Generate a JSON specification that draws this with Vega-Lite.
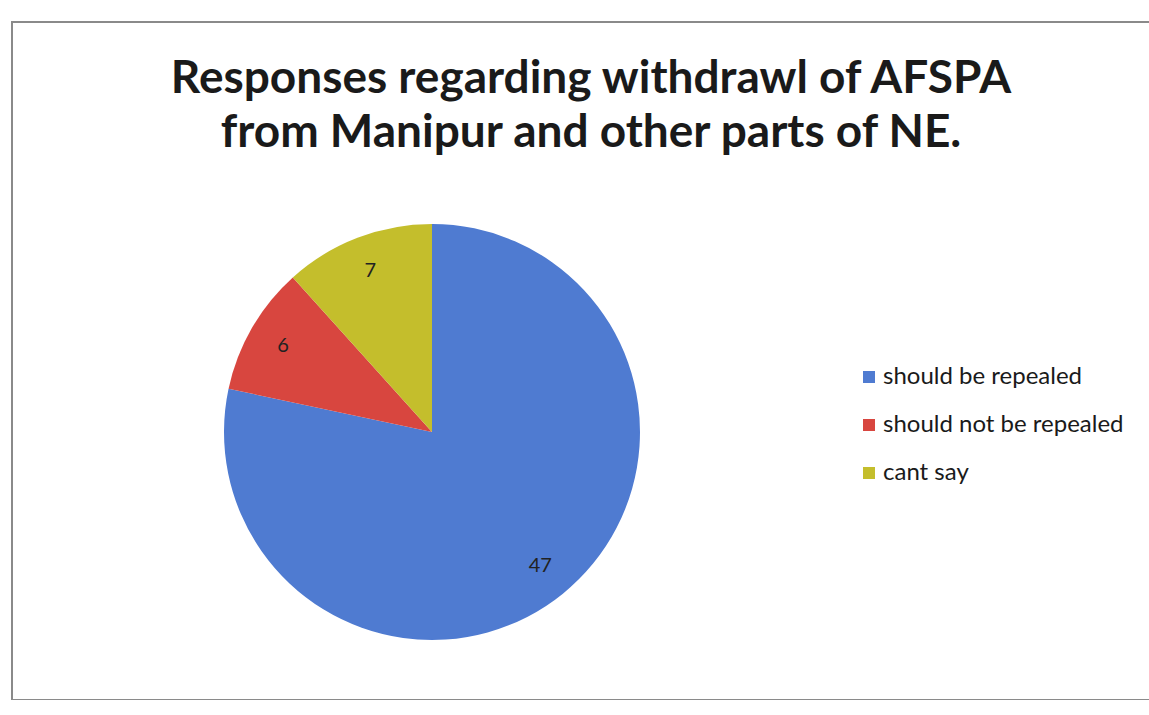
{
  "$schema": "https://vega.github.io/schema/vega-lite/v6.json",
  "autosize": {"type": "none"},
  "width": 1140,
  "height": 678,
  "padding": {"left": 12, "top": 22, "right": 0, "bottom": 0},
  "background": "white",
  "view": {"stroke": "#8a8a8a", "strokeWidth": 2},
  "title": {
    "text": ["Responses regarding withdrawl of AFSPA", "from Manipur and other parts of NE."],
    "font": "Lato",
    "fontWeight": "bold",
    "fontSize": 46,
    "color": "#1a1a1a",
    "anchor": "middle",
    "offset": -135,
    "dx": 9,
    "lineHeight": 54
  },
  "data": {
    "values": [
      {"category": "should be repealed", "count": 47, "order": 1},
      {"category": "should not be repealed", "count": 6, "order": 2},
      {"category": "cant say", "count": 7, "order": 3}
    ]
  },
  "encoding": {
    "theta": {"field": "count", "type": "quantitative", "stack": true},
    "order": {"field": "order", "type": "quantitative"},
    "color": {
      "field": "category",
      "type": "nominal",
      "sort": ["should be repealed", "should not be repealed", "cant say"],
      "scale": {
        "domain": ["should be repealed", "should not be repealed", "cant say"],
        "range": ["#4f7bd1", "#d8463f", "#c4be2c"]
      },
      "legend": {
        "title": null,
        "orient": "none",
        "legendX": 845,
        "legendY": 343,
        "symbolType": "square",
        "symbolSize": 144,
        "symbolStrokeWidth": 0,
        "labelFont": "Lato",
        "labelFontSize": 24,
        "labelLimit": 400,
        "labelColor": "#1a1a1a",
        "rowPadding": 24,
        "labelOffset": 2
      }
    }
  },
  "layer": [
    {
      "mark": {"type": "arc", "x": 420, "y": 410, "outerRadius": 208}
    },
    {
      "mark": {"type": "text", "x": 420, "y": 410, "radius": 172, "font": "Lato", "fontSize": 20, "color": "#222222"},
      "encoding": {
        "text": {"field": "count", "type": "quantitative"},
        "color": {"value": "#222222"}
      }
    }
  ]
}
